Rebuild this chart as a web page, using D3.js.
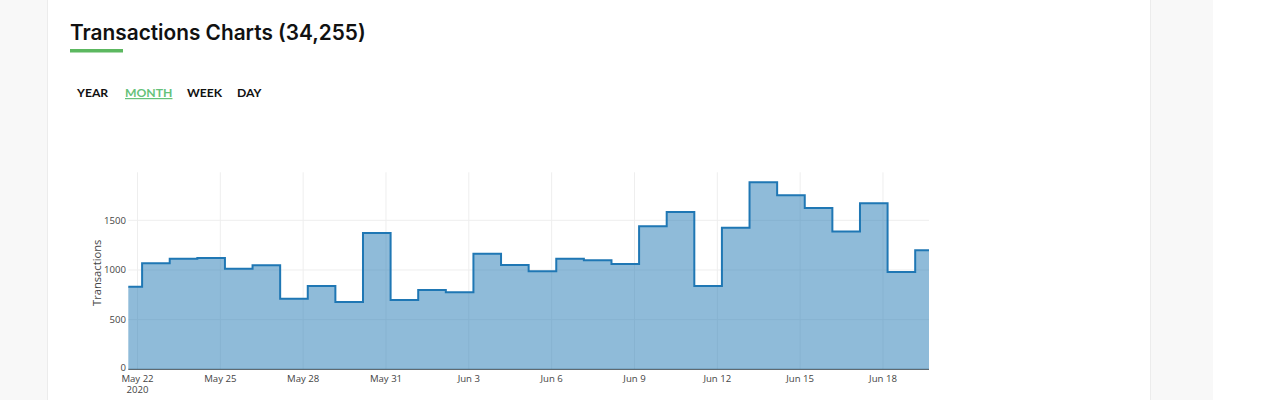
<!DOCTYPE html>
<html>
<head>
<meta charset="utf-8">
<script src="https://cdn.jsdelivr.net/npm/d3@7"></script>
<style>
  html, body { margin: 0; padding: 0; background: #fff; }
  svg { display: block; }
</style>
</head>
<body>
<svg id="chart" width="1280" height="400"></svg>
<script>
// ---- data ----
const dates = [
  "2020-05-21T16:00", "2020-05-22T16:00", "2020-05-23T16:00", "2020-05-24T16:00", "2020-05-25T16:00",
  "2020-05-26T16:00", "2020-05-27T16:00", "2020-05-28T16:00", "2020-05-29T16:00", "2020-05-30T16:00",
  "2020-05-31T16:00", "2020-06-01T16:00", "2020-06-02T16:00", "2020-06-03T16:00", "2020-06-04T16:00",
  "2020-06-05T16:00", "2020-06-06T16:00", "2020-06-07T16:00", "2020-06-08T16:00", "2020-06-09T16:00",
  "2020-06-10T16:00", "2020-06-11T16:00", "2020-06-12T16:00", "2020-06-13T16:00", "2020-06-14T16:00",
  "2020-06-15T16:00", "2020-06-16T16:00", "2020-06-17T16:00", "2020-06-18T16:00", "2020-06-19T16:00"
];
const transactions = [
  832, 1067, 1114, 1121, 1013, 1047, 711, 839, 678, 1372,
  698, 798, 775, 1164, 1050, 986, 1114, 1097, 1060, 1440,
  1584, 839, 1426, 1882, 1752, 1624, 1386, 1671, 980, 1198
];
const xTickDates = ["2020-05-22", "2020-05-25", "2020-05-28", "2020-05-31", "2020-06-03",
                    "2020-06-06", "2020-06-09", "2020-06-12", "2020-06-15", "2020-06-18"];
const xTickLabels = ["May 22", "May 25", "May 28", "May 31", "Jun 3",
                     "Jun 6", "Jun 9", "Jun 12", "Jun 15", "Jun 18"];
const yTicks = [0, 500, 1000, 1500];
const tabs = ["YEAR", "MONTH", "WEEK", "DAY"];
const activeTab = "MONTH";
const title = "Transactions Charts (34,255)";
const yTitle = "Transactions";
const yMax = 1983;

(function () {
// ---- page frame ----
const svg = d3.select("#chart");
svg.append("rect").attr("x", 0).attr("y", 0).attr("width", 47).attr("height", 400).attr("fill", "#f8f8f8");
svg.append("line").attr("x1", 47.5).attr("x2", 47.5).attr("y1", 0).attr("y2", 400).attr("stroke", "#ececec");
svg.append("rect").attr("x", 1150).attr("y", 0).attr("width", 63).attr("height", 400).attr("fill", "#f8f8f8");
svg.append("line").attr("x1", 1150.5).attr("x2", 1150.5).attr("y1", 0).attr("y2", 400).attr("stroke", "#ececec");

// title
svg.append("text").attr("x", 70).attr("y", 40)
  .attr("font-family", "Inter, 'Open Sans', sans-serif").attr("font-weight", 600)
  .attr("font-size", 20.8).attr("fill", "#111").text(title);
svg.append("rect").attr("x", 70).attr("y", 49).attr("width", 53).attr("height", 3.5).attr("fill", "#5cb860");

// tabs
const tabX = [77, 125, 187, 237];
tabs.forEach((t, i) => {
  const active = t === activeTab;
  const el = svg.append("text").attr("x", tabX[i]).attr("y", 97)
    .attr("font-family", "Lato, 'Open Sans', sans-serif").attr("font-weight", 700)
    .attr("font-size", 12.2).attr("fill", active ? "#66c27a" : "#111").text(t);
  if (active) {
    const w = el.node().getComputedTextLength();
    svg.append("rect").attr("x", tabX[i]).attr("y", 98).attr("width", w).attr("height", 1.2).attr("fill", "#66c27a");
  }
});

// ---- chart ----
const parse = d3.utcParse("%Y-%m-%dT%H:%M");
const parseDay = d3.utcParse("%Y-%m-%d");
const data = dates.map((d, i) => ({ date: parse(d), value: transactions[i] }));

const pL = 128.3, pR = 929, pT = 172.3, pB = 369.3;
const x = d3.scaleUtc().domain(d3.extent(data, d => d.date)).range([pL, pR]);
const y = d3.scaleLinear().domain([0, yMax]).range([pB, pT]);

const grid = svg.append("g");
xTickDates.forEach(d => {
  const xx = x(parseDay(d));
  grid.append("line").attr("x1", xx).attr("x2", xx).attr("y1", pT).attr("y2", pB)
    .attr("stroke", "#eeeeee").attr("stroke-width", 1);
});
yTicks.filter(v => v > 0).forEach(v => {
  grid.append("line").attr("x1", pL).attr("x2", pR).attr("y1", y(v)).attr("y2", y(v))
    .attr("stroke", "#eeeeee").attr("stroke-width", 1);
});
svg.append("line").attr("x1", pL).attr("x2", pR).attr("y1", y(0)).attr("y2", y(0))
  .attr("stroke", "#444").attr("stroke-width", 1);

const area = d3.area().curve(d3.curveStep).x(d => x(d.date)).y0(y(0)).y1(d => y(d.value));
const line = d3.line().curve(d3.curveStep).x(d => x(d.date)).y(d => y(d.value));
svg.append("path").datum(data).attr("d", area).attr("fill", "rgba(31,119,180,0.5)");
svg.append("path").datum(data).attr("d", line).attr("fill", "none")
  .attr("stroke", "#1f77b4").attr("stroke-width", 2).attr("stroke-linejoin", "miter");

// y tick labels
const yAx = svg.append("g").attr("font-family", "'Open Sans', sans-serif").attr("font-size", 9.6).attr("fill", "#444");
yTicks.forEach(v => {
  yAx.append("text").attr("x", 126).attr("y", y(v) - (v === 0 ? 2 : 0)).attr("dy", "0.35em").attr("text-anchor", "end").text(v);
});

// x tick labels
const xAx = svg.append("g").attr("font-family", "'Open Sans', sans-serif").attr("font-size", 9.6).attr("fill", "#444");
xTickDates.forEach((d, i) => {
  const xx = x(parseDay(d));
  xAx.append("text").attr("x", xx).attr("y", 381.5).attr("text-anchor", "middle").text(xTickLabels[i]);
  if (i === 0) xAx.append("text").attr("x", xx).attr("y", 392.5).attr("text-anchor", "middle").text("2020");
});

// y axis title
svg.append("text").attr("transform", `translate(100.5,${(pT + pB) / 2 + 2}) rotate(-90)`)
  .attr("text-anchor", "middle").attr("font-family", "'Open Sans', sans-serif")
  .attr("font-size", 11.2).attr("fill", "#444").text(yTitle);
})();
</script>
</body>
</html>
